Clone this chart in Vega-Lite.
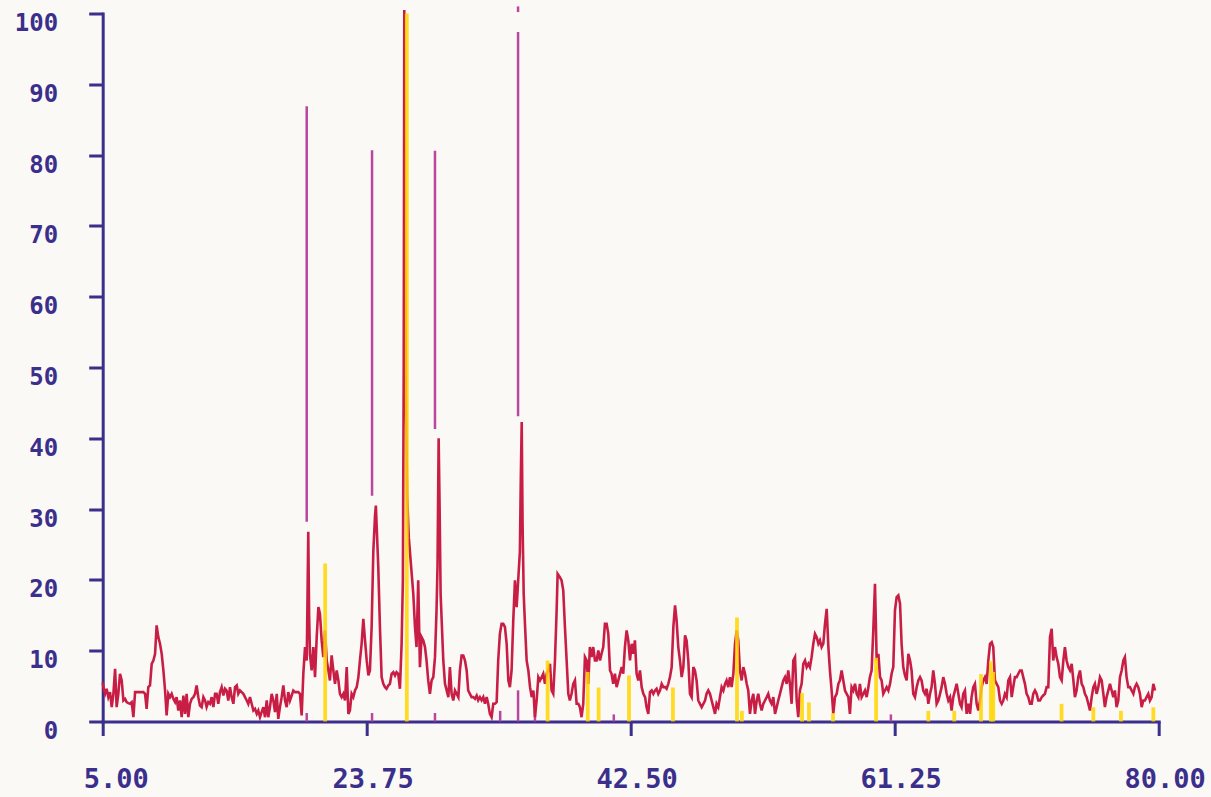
{
  "$schema": "https://vega.github.io/schema/vega-lite/v6.json",
  "width": 1056,
  "height": 708,
  "autosize": {"type": "none"},
  "padding": {"left": 102.7, "top": 13.5, "right": 52, "bottom": 75.5},
  "background": "#fbf9f6",
  "config": {"view": {"stroke": null}},
  "datasets": {
    "scan": [
      {"angle":5.00,"intensity":5.5},{"angle":5.05,"intensity":4.85},{"angle":5.17,"intensity":3.91},{"angle":5.28,"intensity":4.62},{"angle":5.40,"intensity":3.44},{"angle":5.52,"intensity":4.15},{"angle":5.64,"intensity":2.03},{"angle":5.76,"intensity":3.91},{"angle":5.88,"intensity":7.44},{"angle":5.99,"intensity":2.03},{"angle":6.11,"intensity":3.91},{"angle":6.23,"intensity":6.74},{"angle":6.35,"intensity":5.80},{"angle":6.47,"intensity":2.97},{"angle":6.59,"intensity":3.20},{"angle":6.70,"intensity":2.73},{"angle":6.82,"intensity":2.6},{"angle":6.94,"intensity":2.50},{"angle":7.06,"intensity":2.73},{"angle":7.18,"intensity":0.61},{"angle":7.30,"intensity":4.15},{"angle":7.41,"intensity":4.15},{"angle":7.65,"intensity":4.15},{"angle":7.89,"intensity":4.15},{"angle":8.01,"intensity":3.91},{"angle":8.12,"intensity":1.79},{"angle":8.24,"intensity":4.85},{"angle":8.36,"intensity":5.09},{"angle":8.48,"intensity":8.15},{"angle":8.60,"intensity":8.62},{"angle":8.72,"intensity":9.56},{"angle":8.83,"intensity":13.57},{"angle":8.95,"intensity":11.92},{"angle":9.07,"intensity":10.98},{"angle":9.19,"intensity":9.56},{"angle":9.31,"intensity":7.21},{"angle":9.43,"intensity":4.38},{"angle":9.54,"intensity":0.85},{"angle":9.66,"intensity":3.91},{"angle":9.78,"intensity":3.44},{"angle":9.90,"intensity":3.91},{"angle":10.02,"intensity":3.20},{"angle":10.14,"intensity":2.73},{"angle":10.25,"intensity":3.44},{"angle":10.37,"intensity":1.55},{"angle":10.49,"intensity":2.97},{"angle":10.61,"intensity":0.61},{"angle":10.73,"intensity":3.67},{"angle":10.85,"intensity":1.08},{"angle":10.96,"intensity":3.91},{"angle":11.08,"intensity":0.61},{"angle":11.20,"intensity":2.50},{"angle":11.32,"intensity":3.20},{"angle":11.44,"intensity":3.44},{"angle":11.56,"intensity":3.91},{"angle":11.67,"intensity":5.09},{"angle":11.79,"intensity":3.44},{"angle":11.91,"intensity":2.26},{"angle":12.03,"intensity":2.03},{"angle":12.15,"intensity":3.44},{"angle":12.27,"intensity":2.97},{"angle":12.38,"intensity":2.03},{"angle":12.50,"intensity":2.73},{"angle":12.62,"intensity":2.50},{"angle":12.74,"intensity":3.44},{"angle":12.86,"intensity":2.03},{"angle":12.98,"intensity":3.91},{"angle":13.09,"intensity":3.91},{"angle":13.21,"intensity":2.50},{"angle":13.33,"intensity":4.15},{"angle":13.45,"intensity":4.85},{"angle":13.57,"intensity":3.67},{"angle":13.69,"intensity":4.62},{"angle":13.80,"intensity":4.38},{"angle":13.92,"intensity":2.97},{"angle":14.04,"intensity":4.85},{"angle":14.16,"intensity":3.44},{"angle":14.28,"intensity":2.50},{"angle":14.40,"intensity":4.85},{"angle":14.52,"intensity":5.09},{"angle":14.63,"intensity":3.91},{"angle":14.75,"intensity":4.38},{"angle":14.87,"intensity":4.15},{"angle":14.99,"intensity":3.91},{"angle":15.23,"intensity":2.97},{"angle":15.34,"intensity":2.50},{"angle":15.46,"intensity":3.44},{"angle":15.58,"intensity":2.50},{"angle":15.70,"intensity":1.55},{"angle":15.82,"intensity":1.79},{"angle":15.94,"intensity":1.08},{"angle":16.05,"intensity":1.55},{"angle":16.17,"intensity":0.61},{"angle":16.29,"intensity":1.32},{"angle":16.41,"intensity":2.03},{"angle":16.53,"intensity":0.61},{"angle":16.65,"intensity":2.97},{"angle":16.76,"intensity":0.61},{"angle":16.88,"intensity":2.03},{"angle":17.00,"intensity":3.91},{"angle":17.12,"intensity":2.97},{"angle":17.24,"intensity":1.32},{"angle":17.36,"intensity":3.91},{"angle":17.47,"intensity":0.38},{"angle":17.59,"intensity":2.03},{"angle":17.71,"intensity":3.44},{"angle":17.83,"intensity":5.09},{"angle":17.95,"intensity":2.97},{"angle":18.07,"intensity":2.03},{"angle":18.18,"intensity":4.15},{"angle":18.30,"intensity":2.97},{"angle":18.42,"intensity":3.67},{"angle":18.54,"intensity":4.38},{"angle":18.66,"intensity":4.15},{"angle":18.78,"intensity":4.15},{"angle":18.89,"intensity":4.15},{"angle":19.01,"intensity":3.91},{"angle":19.13,"intensity":0.85},{"angle":19.25,"intensity":6.74},{"angle":19.37,"intensity":10.51},{"angle":19.49,"intensity":8.62},{"angle":19.55,"intensity":18},{"angle":19.60,"intensity":26.8},{"angle":19.66,"intensity":15},{"angle":19.72,"intensity":9.56},{"angle":19.84,"intensity":7.21},{"angle":19.96,"intensity":10.51},{"angle":20.08,"intensity":6.27},{"angle":20.20,"intensity":11.92},{"angle":20.32,"intensity":16.16},{"angle":20.43,"intensity":15.22},{"angle":20.55,"intensity":11.45},{"angle":20.67,"intensity":9.09},{"angle":20.79,"intensity":12.86},{"angle":20.91,"intensity":8.62},{"angle":21.03,"intensity":7.21},{"angle":21.14,"intensity":5.80},{"angle":21.26,"intensity":9.33},{"angle":21.38,"intensity":7.21},{"angle":21.50,"intensity":5.32},{"angle":21.62,"intensity":7.21},{"angle":21.74,"intensity":5.80},{"angle":21.85,"intensity":3.91},{"angle":21.97,"intensity":3.44},{"angle":22.09,"intensity":3.91},{"angle":22.21,"intensity":2.97},{"angle":22.33,"intensity":7.68},{"angle":22.45,"intensity":1.08},{"angle":22.56,"intensity":1.55},{"angle":22.68,"intensity":3.91},{"angle":22.80,"intensity":3.44},{"angle":22.92,"intensity":4.38},{"angle":23.04,"intensity":4.85},{"angle":23.16,"intensity":6.27},{"angle":23.27,"intensity":8.62},{"angle":23.39,"intensity":10.98},{"angle":23.51,"intensity":14.5},{"angle":23.63,"intensity":11.45},{"angle":23.75,"intensity":8.62},{"angle":23.87,"intensity":6.5},{"angle":23.98,"intensity":7.21},{"angle":24.10,"intensity":13.33},{"angle":24.22,"intensity":24},{"angle":24.34,"intensity":29},{"angle":24.40,"intensity":30.5},{"angle":24.57,"intensity":22},{"angle":24.69,"intensity":13.33},{"angle":24.81,"intensity":6.27},{"angle":24.93,"intensity":5.32},{"angle":25.05,"intensity":4.85},{"angle":25.16,"intensity":4.62},{"angle":25.28,"intensity":5.09},{"angle":25.40,"intensity":5.32},{"angle":25.52,"intensity":6.74},{"angle":25.64,"intensity":6.97},{"angle":25.76,"intensity":6.50},{"angle":25.87,"intensity":6.97},{"angle":25.99,"intensity":6.74},{"angle":26.11,"intensity":4.62},{"angle":26.23,"intensity":10.98},{"angle":26.32,"intensity":20},{"angle":26.38,"intensity":50},{"angle":26.42,"intensity":100.5},{"angle":26.47,"intensity":75},{"angle":26.54,"intensity":45},{"angle":26.62,"intensity":32},{"angle":26.74,"intensity":26},{"angle":26.88,"intensity":22.5},{"angle":26.98,"intensity":20},{"angle":27.06,"intensity":18},{"angle":27.18,"intensity":13.33},{"angle":27.29,"intensity":10.51},{"angle":27.41,"intensity":19.93},{"angle":27.53,"intensity":7.68},{"angle":27.65,"intensity":11.92},{"angle":27.77,"intensity":11.45},{"angle":27.89,"intensity":10.51},{"angle":28.00,"intensity":8.62},{"angle":28.12,"intensity":5.80},{"angle":28.24,"intensity":3.91},{"angle":28.36,"intensity":5.80},{"angle":28.48,"intensity":6.27},{"angle":28.60,"intensity":9.09},{"angle":28.71,"intensity":15.69},{"angle":28.78,"intensity":22},{"angle":28.86,"intensity":40},{"angle":28.93,"intensity":30},{"angle":29.00,"intensity":18},{"angle":29.19,"intensity":8.62},{"angle":29.31,"intensity":5.32},{"angle":29.43,"intensity":4.38},{"angle":29.55,"intensity":3.44},{"angle":29.66,"intensity":7.68},{"angle":29.78,"intensity":3.91},{"angle":29.90,"intensity":2.97},{"angle":30.02,"intensity":4.38},{"angle":30.14,"intensity":3.91},{"angle":30.26,"intensity":3.44},{"angle":30.37,"intensity":7.21},{"angle":30.49,"intensity":9.33},{"angle":30.61,"intensity":9.33},{"angle":30.73,"intensity":8.62},{"angle":30.85,"intensity":7.21},{"angle":30.96,"intensity":4.38},{"angle":31.08,"intensity":3.91},{"angle":31.20,"intensity":3.44},{"angle":31.32,"intensity":3.44},{"angle":31.44,"intensity":3.2},{"angle":31.56,"intensity":3.67},{"angle":31.67,"intensity":3.0},{"angle":31.79,"intensity":3.44},{"angle":31.91,"intensity":3.0},{"angle":32.03,"intensity":3.44},{"angle":32.15,"intensity":2.50},{"angle":32.27,"intensity":3.44},{"angle":32.38,"intensity":2.50},{"angle":32.50,"intensity":1.08},{"angle":32.62,"intensity":0.61},{"angle":32.74,"intensity":2.50},{"angle":32.86,"intensity":2.50},{"angle":32.98,"intensity":2.73},{"angle":33.09,"intensity":8.62},{"angle":33.21,"intensity":12.39},{"angle":33.33,"intensity":13.80},{"angle":33.45,"intensity":13.80},{"angle":33.57,"intensity":13.33},{"angle":33.69,"intensity":10.98},{"angle":33.81,"intensity":5.80},{"angle":33.92,"intensity":4.85},{"angle":34.04,"intensity":7.21},{"angle":34.16,"intensity":14.28},{"angle":34.28,"intensity":19.93},{"angle":34.40,"intensity":16.16},{"angle":34.51,"intensity":19.93},{"angle":34.63,"intensity":24},{"angle":34.70,"intensity":35},{"angle":34.76,"intensity":42.3},{"angle":34.82,"intensity":28},{"angle":34.90,"intensity":18},{"angle":35.00,"intensity":13.33},{"angle":35.11,"intensity":8.62},{"angle":35.23,"intensity":7.21},{"angle":35.35,"intensity":4.85},{"angle":35.47,"intensity":3.44},{"angle":35.59,"intensity":4.38},{"angle":35.70,"intensity":0.61},{"angle":35.82,"intensity":2.97},{"angle":35.94,"intensity":6.27},{"angle":36.06,"intensity":5.80},{"angle":36.18,"intensity":6.27},{"angle":36.29,"intensity":6.74},{"angle":36.41,"intensity":5.32},{"angle":36.53,"intensity":6.74},{"angle":36.65,"intensity":7.21},{"angle":36.77,"intensity":8.15},{"angle":36.88,"intensity":4.38},{"angle":37.00,"intensity":3.91},{"angle":37.12,"intensity":8.62},{"angle":37.24,"intensity":15.69},{"angle":37.31,"intensity":20.87},{"angle":37.47,"intensity":20.40},{"angle":37.59,"intensity":19.93},{"angle":37.71,"intensity":18.52},{"angle":37.83,"intensity":13.33},{"angle":37.95,"intensity":8.62},{"angle":38.07,"intensity":3.91},{"angle":38.18,"intensity":2.97},{"angle":38.30,"intensity":3.91},{"angle":38.42,"intensity":5.32},{"angle":38.54,"intensity":5.80},{"angle":38.66,"intensity":2.50},{"angle":38.78,"intensity":2.50},{"angle":38.89,"intensity":2.03},{"angle":39.01,"intensity":0.61},{"angle":39.13,"intensity":2.50},{"angle":39.25,"intensity":9.09},{"angle":39.37,"intensity":8.62},{"angle":39.49,"intensity":5.32},{"angle":39.60,"intensity":10.51},{"angle":39.72,"intensity":9.09},{"angle":39.84,"intensity":10.51},{"angle":39.96,"intensity":8.62},{"angle":40.08,"intensity":8.62},{"angle":40.20,"intensity":10.04},{"angle":40.32,"intensity":8.62},{"angle":40.43,"intensity":9.56},{"angle":40.55,"intensity":10.51},{"angle":40.67,"intensity":13.80},{"angle":40.79,"intensity":13.80},{"angle":40.91,"intensity":12.39},{"angle":41.03,"intensity":7.21},{"angle":41.14,"intensity":6.74},{"angle":41.26,"intensity":5.32},{"angle":41.38,"intensity":6.74},{"angle":41.50,"intensity":4.85},{"angle":41.62,"intensity":5.80},{"angle":41.74,"intensity":6.74},{"angle":41.86,"intensity":7.68},{"angle":41.97,"intensity":6.74},{"angle":42.09,"intensity":10.51},{"angle":42.21,"intensity":12.86},{"angle":42.33,"intensity":11.45},{"angle":42.45,"intensity":8.62},{"angle":42.57,"intensity":10.98},{"angle":42.68,"intensity":9.56},{"angle":42.80,"intensity":11.45},{"angle":42.92,"intensity":6.74},{"angle":43.04,"intensity":5.80},{"angle":43.16,"intensity":7.21},{"angle":43.28,"intensity":4.85},{"angle":43.40,"intensity":3.91},{"angle":43.52,"intensity":3.44},{"angle":43.63,"intensity":2.03},{"angle":43.75,"intensity":1.08},{"angle":43.87,"intensity":4.15},{"angle":43.99,"intensity":4.38},{"angle":44.11,"intensity":3.91},{"angle":44.23,"intensity":4.38},{"angle":44.34,"intensity":4.62},{"angle":44.46,"intensity":3.91},{"angle":44.58,"intensity":4.38},{"angle":44.70,"intensity":5.32},{"angle":44.82,"intensity":4.85},{"angle":44.94,"intensity":4.85},{"angle":45.05,"intensity":4.62},{"angle":45.17,"intensity":5.32},{"angle":45.29,"intensity":6.27},{"angle":45.41,"intensity":7.68},{"angle":45.53,"intensity":13.33},{"angle":45.65,"intensity":16.40},{"angle":45.76,"intensity":14.28},{"angle":45.88,"intensity":10.51},{"angle":46.00,"intensity":8.62},{"angle":46.12,"intensity":6.27},{"angle":46.24,"intensity":7.68},{"angle":46.36,"intensity":12.16},{"angle":46.47,"intensity":11.45},{"angle":46.59,"intensity":8.62},{"angle":46.71,"intensity":3.91},{"angle":46.83,"intensity":3.44},{"angle":46.95,"intensity":7.68},{"angle":47.06,"intensity":7.21},{"angle":47.18,"intensity":5.80},{"angle":47.30,"intensity":2.97},{"angle":47.42,"intensity":2.50},{"angle":47.54,"intensity":2.03},{"angle":47.66,"intensity":2.50},{"angle":47.78,"intensity":2.97},{"angle":47.89,"intensity":3.91},{"angle":48.01,"intensity":4.38},{"angle":48.13,"intensity":3.91},{"angle":48.25,"intensity":2.97},{"angle":48.37,"intensity":2.03},{"angle":48.49,"intensity":1.08},{"angle":48.60,"intensity":2.50},{"angle":48.72,"intensity":2.03},{"angle":48.84,"intensity":3.44},{"angle":48.96,"intensity":4.85},{"angle":49.08,"intensity":4.38},{"angle":49.20,"intensity":5.32},{"angle":49.31,"intensity":5.80},{"angle":49.43,"intensity":4.85},{"angle":49.55,"intensity":6.27},{"angle":49.67,"intensity":4.85},{"angle":49.79,"intensity":6.74},{"angle":49.91,"intensity":10.98},{"angle":50.03,"intensity":12.86},{"angle":50.14,"intensity":11.45},{"angle":50.26,"intensity":7.21},{"angle":50.38,"intensity":5.80},{"angle":50.50,"intensity":7.68},{"angle":50.62,"intensity":6.74},{"angle":50.74,"intensity":5.32},{"angle":50.85,"intensity":4.38},{"angle":50.97,"intensity":1.08},{"angle":51.09,"intensity":2.97},{"angle":51.21,"intensity":3.91},{"angle":51.33,"intensity":1.08},{"angle":51.45,"intensity":2.97},{"angle":51.56,"intensity":3.91},{"angle":51.68,"intensity":2.50},{"angle":51.80,"intensity":1.55},{"angle":51.92,"intensity":2.50},{"angle":52.04,"intensity":2.97},{"angle":52.16,"intensity":3.44},{"angle":52.27,"intensity":3.91},{"angle":52.39,"intensity":2.97},{"angle":52.51,"intensity":2.50},{"angle":52.63,"intensity":3.44},{"angle":52.75,"intensity":1.08},{"angle":52.87,"intensity":2.03},{"angle":52.98,"intensity":2.97},{"angle":53.10,"intensity":3.91},{"angle":53.22,"intensity":4.85},{"angle":53.34,"intensity":5.80},{"angle":53.46,"intensity":6.27},{"angle":53.58,"intensity":5.32},{"angle":53.69,"intensity":7.21},{"angle":53.81,"intensity":5.32},{"angle":53.93,"intensity":2.50},{"angle":54.05,"intensity":8.62},{"angle":54.17,"intensity":9.09},{"angle":54.29,"intensity":2.97},{"angle":54.40,"intensity":0.61},{"angle":54.52,"intensity":4.38},{"angle":54.64,"intensity":5.32},{"angle":54.76,"intensity":8.15},{"angle":54.88,"intensity":8.62},{"angle":55.00,"intensity":7.68},{"angle":55.12,"intensity":8.15},{"angle":55.23,"intensity":7.68},{"angle":55.35,"intensity":9.09},{"angle":55.47,"intensity":10.98},{"angle":55.59,"intensity":12.39},{"angle":55.71,"intensity":11.92},{"angle":55.83,"intensity":10.98},{"angle":55.94,"intensity":11.45},{"angle":56.06,"intensity":10.51},{"angle":56.18,"intensity":10.98},{"angle":56.30,"intensity":13.80},{"angle":56.42,"intensity":15.92},{"angle":56.54,"intensity":10.51},{"angle":56.65,"intensity":7.21},{"angle":56.77,"intensity":4.38},{"angle":56.89,"intensity":1.08},{"angle":57.01,"intensity":3.44},{"angle":57.13,"intensity":3.91},{"angle":57.25,"intensity":5.32},{"angle":57.36,"intensity":5.80},{"angle":57.48,"intensity":7.21},{"angle":57.60,"intensity":5.80},{"angle":57.72,"intensity":4.38},{"angle":57.84,"intensity":3.91},{"angle":57.96,"intensity":3.44},{"angle":58.07,"intensity":1.08},{"angle":58.19,"intensity":4.85},{"angle":58.31,"intensity":4.38},{"angle":58.43,"intensity":5.32},{"angle":58.55,"intensity":3.91},{"angle":58.67,"intensity":3.44},{"angle":58.78,"intensity":5.32},{"angle":58.90,"intensity":3.44},{"angle":59.02,"intensity":3.91},{"angle":59.14,"intensity":4.38},{"angle":59.26,"intensity":3.44},{"angle":59.38,"intensity":4.85},{"angle":59.49,"intensity":6.27},{"angle":59.61,"intensity":7.21},{"angle":59.73,"intensity":12.86},{"angle":59.85,"intensity":19.46},{"angle":59.97,"intensity":8.62},{"angle":60.09,"intensity":9.56},{"angle":60.21,"intensity":6.27},{"angle":60.32,"intensity":5.80},{"angle":60.44,"intensity":3.91},{"angle":60.56,"intensity":4.38},{"angle":60.68,"intensity":4.85},{"angle":60.80,"intensity":4.38},{"angle":60.92,"intensity":5.32},{"angle":61.03,"intensity":6.74},{"angle":61.15,"intensity":7.68},{"angle":61.27,"intensity":15.69},{"angle":61.39,"intensity":17.57},{"angle":61.51,"intensity":17.81},{"angle":61.63,"intensity":16.63},{"angle":61.74,"intensity":10.98},{"angle":61.86,"intensity":7.68},{"angle":61.98,"intensity":6.5},{"angle":62.10,"intensity":5.80},{"angle":62.22,"intensity":9.56},{"angle":62.34,"intensity":8.62},{"angle":62.45,"intensity":7.21},{"angle":62.57,"intensity":3.91},{"angle":62.69,"intensity":3.44},{"angle":62.81,"intensity":4.85},{"angle":62.93,"intensity":5.80},{"angle":63.05,"intensity":6.27},{"angle":63.16,"intensity":5.80},{"angle":63.28,"intensity":4.38},{"angle":63.40,"intensity":3.91},{"angle":63.52,"intensity":4.62},{"angle":63.64,"intensity":2.50},{"angle":63.76,"intensity":3.91},{"angle":63.87,"intensity":4.85},{"angle":63.99,"intensity":7.21},{"angle":64.11,"intensity":5.32},{"angle":64.23,"intensity":2.50},{"angle":64.35,"intensity":2.97},{"angle":64.47,"intensity":3.91},{"angle":64.58,"intensity":4.85},{"angle":64.70,"intensity":6.27},{"angle":64.82,"intensity":5.32},{"angle":64.94,"intensity":3.91},{"angle":65.06,"intensity":2.97},{"angle":65.18,"intensity":3.44},{"angle":65.29,"intensity":1.55},{"angle":65.41,"intensity":3.44},{"angle":65.53,"intensity":4.38},{"angle":65.65,"intensity":5.32},{"angle":65.77,"intensity":3.91},{"angle":65.89,"intensity":2.50},{"angle":66.00,"intensity":2.03},{"angle":66.12,"intensity":3.91},{"angle":66.24,"intensity":4.38},{"angle":66.36,"intensity":1.08},{"angle":66.48,"intensity":2.50},{"angle":66.60,"intensity":1.08},{"angle":66.71,"intensity":3.44},{"angle":66.83,"intensity":4.85},{"angle":66.95,"intensity":5.32},{"angle":67.07,"intensity":2.50},{"angle":67.19,"intensity":1.55},{"angle":67.31,"intensity":2.97},{"angle":67.42,"intensity":4.85},{"angle":67.54,"intensity":5.80},{"angle":67.66,"intensity":6.27},{"angle":67.78,"intensity":5.32},{"angle":67.90,"intensity":8.62},{"angle":68.02,"intensity":10.98},{"angle":68.14,"intensity":11.21},{"angle":68.25,"intensity":10.51},{"angle":68.37,"intensity":5.80},{"angle":68.49,"intensity":5.32},{"angle":68.61,"intensity":4.85},{"angle":68.73,"intensity":2.97},{"angle":68.85,"intensity":2.50},{"angle":68.96,"intensity":2.97},{"angle":69.08,"intensity":3.91},{"angle":69.20,"intensity":3.44},{"angle":69.32,"intensity":5.80},{"angle":69.44,"intensity":6.27},{"angle":69.56,"intensity":3.44},{"angle":69.67,"intensity":4.85},{"angle":69.79,"intensity":6.27},{"angle":69.91,"intensity":6.27},{"angle":70.03,"intensity":6.74},{"angle":70.15,"intensity":7.21},{"angle":70.27,"intensity":7.21},{"angle":70.38,"intensity":6.27},{"angle":70.50,"intensity":5.32},{"angle":70.62,"intensity":3.91},{"angle":70.74,"intensity":3.44},{"angle":70.86,"intensity":2.50},{"angle":70.98,"intensity":2.50},{"angle":71.09,"intensity":3.91},{"angle":71.21,"intensity":4.38},{"angle":71.33,"intensity":3.91},{"angle":71.45,"intensity":2.97},{"angle":71.57,"intensity":2.97},{"angle":71.69,"intensity":3.44},{"angle":71.80,"intensity":3.67},{"angle":71.92,"intensity":3.91},{"angle":72.04,"intensity":4.85},{"angle":72.16,"intensity":4.85},{"angle":72.28,"intensity":11.92},{"angle":72.40,"intensity":13.10},{"angle":72.51,"intensity":8.62},{"angle":72.63,"intensity":10.51},{"angle":72.75,"intensity":9.09},{"angle":72.87,"intensity":8.15},{"angle":72.99,"intensity":6.27},{"angle":73.11,"intensity":5.80},{"angle":73.23,"intensity":8.62},{"angle":73.34,"intensity":10.51},{"angle":73.46,"intensity":8.62},{"angle":73.58,"intensity":7.68},{"angle":73.70,"intensity":7.21},{"angle":73.82,"intensity":8.15},{"angle":73.94,"intensity":5.80},{"angle":74.05,"intensity":3.44},{"angle":74.17,"intensity":4.38},{"angle":74.29,"intensity":6.27},{"angle":74.41,"intensity":7.21},{"angle":74.53,"intensity":5.32},{"angle":74.65,"intensity":4.85},{"angle":74.76,"intensity":3.91},{"angle":74.88,"intensity":3.44},{"angle":75.00,"intensity":2.50},{"angle":75.12,"intensity":1.55},{"angle":75.24,"intensity":3.44},{"angle":75.36,"intensity":4.85},{"angle":75.47,"intensity":5.32},{"angle":75.59,"intensity":3.91},{"angle":75.71,"intensity":4.85},{"angle":75.83,"intensity":6.27},{"angle":75.95,"intensity":5.80},{"angle":76.07,"intensity":3.91},{"angle":76.18,"intensity":2.03},{"angle":76.30,"intensity":3.44},{"angle":76.42,"intensity":4.38},{"angle":76.54,"intensity":5.32},{"angle":76.66,"intensity":4.38},{"angle":76.78,"intensity":3.44},{"angle":76.89,"intensity":4.38},{"angle":77.01,"intensity":2.03},{"angle":77.13,"intensity":2.97},{"angle":77.25,"intensity":6.27},{"angle":77.37,"intensity":7.21},{"angle":77.49,"intensity":8.62},{"angle":77.60,"intensity":9.09},{"angle":77.72,"intensity":6.27},{"angle":77.84,"intensity":4.85},{"angle":77.96,"intensity":4.85},{"angle":78.08,"intensity":4.38},{"angle":78.20,"intensity":3.91},{"angle":78.31,"intensity":4.85},{"angle":78.43,"intensity":5.32},{"angle":78.55,"intensity":4.85},{"angle":78.67,"intensity":3.91},{"angle":78.79,"intensity":2.03},{"angle":78.91,"intensity":2.97},{"angle":79.02,"intensity":2.97},{"angle":79.14,"intensity":3.44},{"angle":79.26,"intensity":3.91},{"angle":79.38,"intensity":2.97},{"angle":79.50,"intensity":3.44},{"angle":79.62,"intensity":5.32},{"angle":79.74,"intensity":4.38}
    ],
    "refA": [
      {"angle":19.49,"intensity":86.9,"base":28.2},{"angle":19.49,"intensity":1.2,"base":0},
      {"angle":24.13,"intensity":80.7,"base":31.9},{"angle":24.13,"intensity":1.2,"base":0},
      {"angle":28.60,"intensity":80.6,"base":41.3},{"angle":28.60,"intensity":1.2,"base":0},
      {"angle":34.50,"intensity":97.4,"base":43.1},{"angle":34.50,"intensity":101.0,"base":100.2},{"angle":34.50,"intensity":4.4,"base":0},
      {"angle":33.23,"intensity":1.5,"base":0},{"angle":35.70,"intensity":1.5,"base":0},{"angle":41.30,"intensity":1.0,"base":0},{"angle":60.98,"intensity":1.0,"base":0}
    ],
    "refB": [
      {"angle":20.80,"intensity":22.3},{"angle":26.60,"intensity":100},{"angle":36.60,"intensity":8.6},{"angle":39.45,"intensity":7},{"angle":40.22,"intensity":4.8},{"angle":42.38,"intensity":6.5},{"angle":45.50,"intensity":4.8},{"angle":50.05,"intensity":14.7},{"angle":50.40,"intensity":1.5},{"angle":54.67,"intensity":4},{"angle":55.16,"intensity":2.7},{"angle":56.87,"intensity":1.2},{"angle":59.93,"intensity":9},{"angle":63.64,"intensity":1.5},{"angle":65.48,"intensity":1.5},{"angle":67.38,"intensity":6.7},{"angle":68.08,"intensity":8.5},{"angle":68.25,"intensity":7},{"angle":73.10,"intensity":2.5},{"angle":75.36,"intensity":2},{"angle":77.32,"intensity":1.5},{"angle":79.62,"intensity":2}
    ]
  },
  "encoding": {
    "x": {
      "field": "angle", "type": "quantitative",
      "scale": {"domain": [5, 80], "nice": false, "zero": false},
      "axis": {
        "values": [5, 23.75, 42.5, 61.25, 80], "format": ".2f", "title": null, "grid": false,
        "domainColor": "#3b2f8c", "domainWidth": 3, "domainCap": "square",
        "tickColor": "#3b2f8c", "tickWidth": 3, "tickSize": 14,
        "labelColor": "#3b2f8c", "labelFont": "DejaVu Sans Mono", "labelFontSize": 27, "labelFontWeight": "bold",
        "labelPadding": 31, "labelFlush": false, "labelOverlap": false,
        "labelOffset": {"condition": {"test": "datum.value == 5", "value": 13}, "value": 6}
      }
    },
    "y": {
      "field": "intensity", "type": "quantitative",
      "scale": {"domain": [0, 100], "nice": false},
      "axis": {
        "values": [0, 10, 20, 30, 40, 50, 60, 70, 80, 90, 100], "format": "d", "title": null, "grid": false,
        "domainColor": "#3b2f8c", "domainWidth": 3, "domainCap": "square",
        "tickColor": "#3b2f8c", "tickWidth": 3, "tickSize": 14,
        "labelColor": "#3b2f8c", "labelFont": "DejaVu Sans Mono", "labelFontSize": 24, "labelFontWeight": "bold",
        "labelPadding": 31, "labelFlush": false, "labelOverlap": false, "labelBaseline": "middle", "labelOffset": 10
      }
    }
  },
  "layer": [
    {
      "data": {"name": "refA"},
      "mark": {"type": "rule", "color": "#b9469f", "strokeWidth": 2.5},
      "encoding": {"y2": {"field": "base"}}
    },
    {
      "data": {"name": "scan"},
      "mark": {"type": "line", "color": "#c81e45", "strokeWidth": 2.6, "interpolate": "linear"},
      "encoding": {}
    },
    {
      "data": {"name": "refB"},
      "mark": {"type": "rule", "color": "#ffd600", "strokeWidth": 3.8, "opacity": 0.85},
      "encoding": {"y2": {"datum": 0}}
    }
  ]
}
